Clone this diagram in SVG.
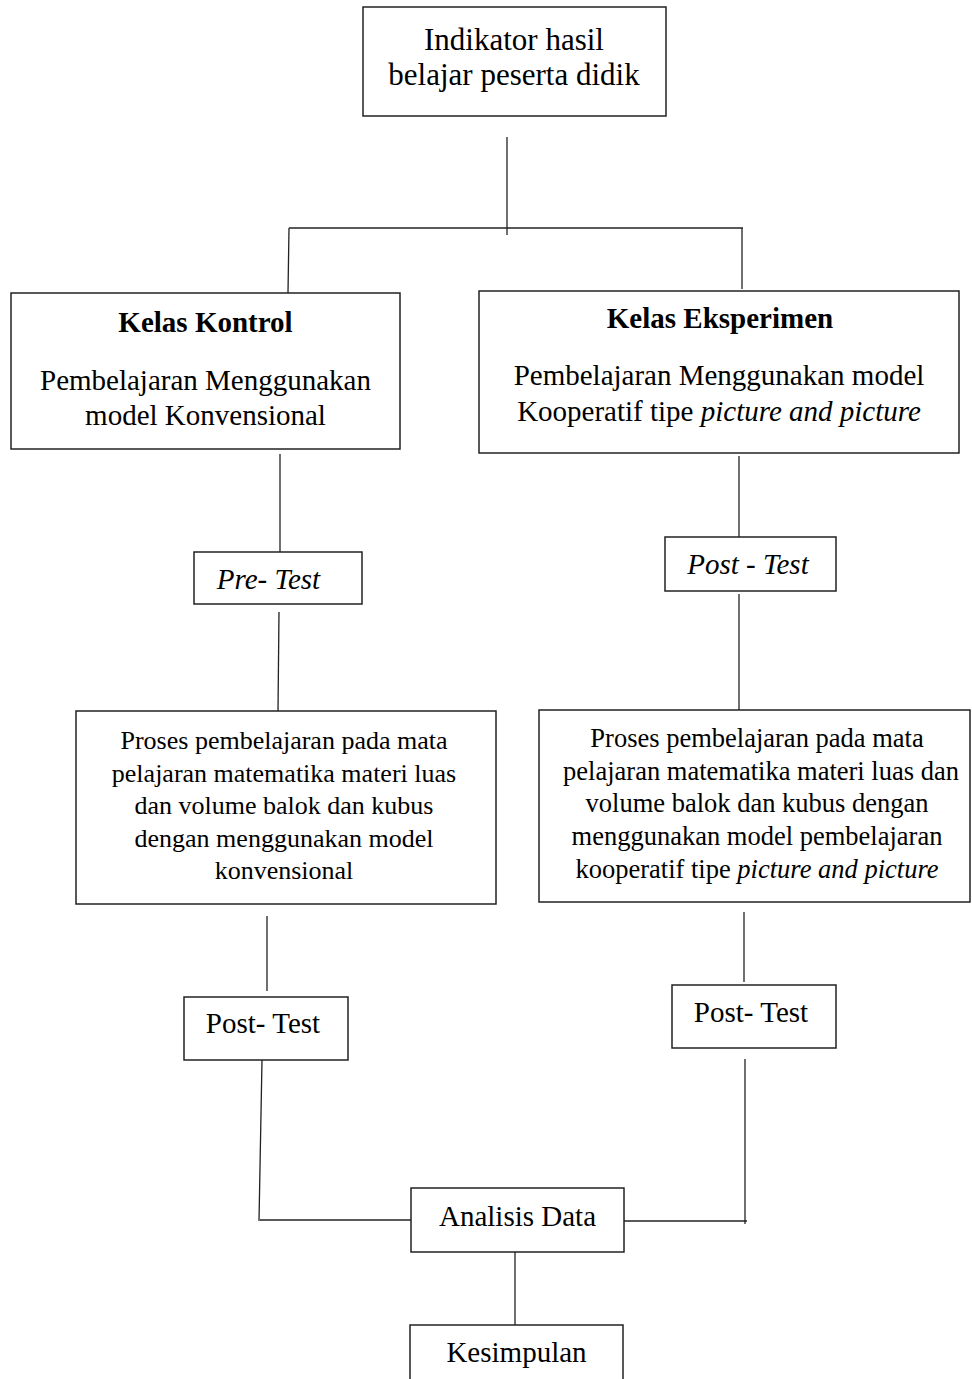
<svg xmlns="http://www.w3.org/2000/svg" width="972" height="1379" viewBox="0 0 972 1379">
<style>
.box{fill:#fff;stroke:#222;stroke-width:1.5}
.ln{fill:none;stroke:#222;stroke-width:1.3}
text{font-family:"Liberation Serif","Times New Roman",serif;fill:#000;text-anchor:middle}
.t29{font-size:29px}
.t26{font-size:26px}
.b{font-weight:bold}
.i{font-style:italic}
</style>
<rect width="972" height="1379" fill="#fff"/>
<g id="connectors">
<path class="ln" d="M507,137 V235"/>
<path class="ln" d="M289,228 H743"/>
<path class="ln" d="M289,228 L288,293"/>
<path class="ln" d="M742,228 V289"/>
<path class="ln" d="M280,454 V552"/>
<path class="ln" d="M279,612 L278,711"/>
<path class="ln" d="M739,456 V537"/>
<path class="ln" d="M739,594 V710"/>
<path class="ln" d="M267,916 V991"/>
<path class="ln" d="M744,912 V982"/>
<path class="ln" d="M262,1060 L259,1221"/>
<path class="ln" d="M260,1220 H411"/>
<path class="ln" d="M745,1059 V1224"/>
<path class="ln" d="M624,1221 H747"/>
<path class="ln" d="M515,1250 V1325"/>
</g>
<g id="n-indikator">
<rect class="box" x="363" y="7" width="303" height="109"/>
<text class="t29" x="514" y="50" style="font-size:31px">Indikator hasil</text>
<text class="t29" x="514" y="85" style="font-size:31px">belajar peserta didik</text>
</g>
<g id="n-kontrol">
<rect class="box" x="11" y="293" width="389" height="156"/>
<text class="t29 b" x="205.5" y="332">Kelas Kontrol</text>
<text class="t29" x="205.5" y="390">Pembelajaran Menggunakan</text>
<text class="t29" x="205.5" y="425">model Konvensional</text>
</g>
<g id="n-eksperimen">
<rect class="box" x="479" y="291" width="480" height="162"/>
<text class="t29 b" x="720" y="328">Kelas Eksperimen</text>
<text class="t29" x="719" y="385">Pembelajaran Menggunakan model</text>
<text class="t29" x="719" y="421">Kooperatif tipe <tspan class="i">picture and picture</tspan></text>
</g>
<g id="n-pretest">
<rect class="box" x="194" y="552" width="168" height="52"/>
<text class="t29 i" x="268.5" y="589">Pre- Test</text>
</g>
<g id="n-posttest-eks">
<rect class="box" x="665" y="537" width="171" height="54"/>
<text class="t29 i" x="748" y="574">Post - Test</text>
</g>
<g id="n-proses-kontrol">
<rect class="box" x="76" y="711" width="420" height="193"/>
<text class="t26" x="284" y="749">Proses pembelajaran pada mata</text>
<text class="t26" x="284" y="782">pelajaran matematika materi luas</text>
<text class="t26" x="284" y="814">dan volume balok dan kubus</text>
<text class="t26" x="284" y="847">dengan menggunakan model</text>
<text class="t26" x="284" y="879">konvensional</text>
</g>
<g id="n-proses-eks">
<rect class="box" x="539" y="710" width="431" height="192"/>
<text class="t26" x="757" y="747" style="font-size:26.5px">Proses pembelajaran pada mata</text>
<text class="t26" x="761" y="780" style="font-size:26.5px">pelajaran matematika materi luas dan</text>
<text class="t26" x="757" y="812" style="font-size:26.5px">volume balok dan kubus dengan</text>
<text class="t26" x="757" y="845" style="font-size:26.5px">menggunakan model pembelajaran</text>
<text class="t26" x="757" y="878" style="font-size:26.5px">kooperatif tipe <tspan class="i">picture and picture</tspan></text>
</g>
<g id="n-posttest-kontrol">
<rect class="box" x="184" y="997" width="164" height="63"/>
<text class="t29" x="263" y="1033">Post- Test</text>
</g>
<g id="n-posttest-eks2">
<rect class="box" x="672" y="985" width="164" height="63"/>
<text class="t29" x="751" y="1022">Post- Test</text>
</g>
<g id="n-analisis">
<rect class="box" x="411" y="1188" width="213" height="64"/>
<text class="t29" x="517.5" y="1226">Analisis Data</text>
</g>
<g id="n-kesimpulan">
<rect class="box" x="410" y="1325" width="213" height="70"/>
<text class="t29" x="516.5" y="1362">Kesimpulan</text>
</g>
</svg>
